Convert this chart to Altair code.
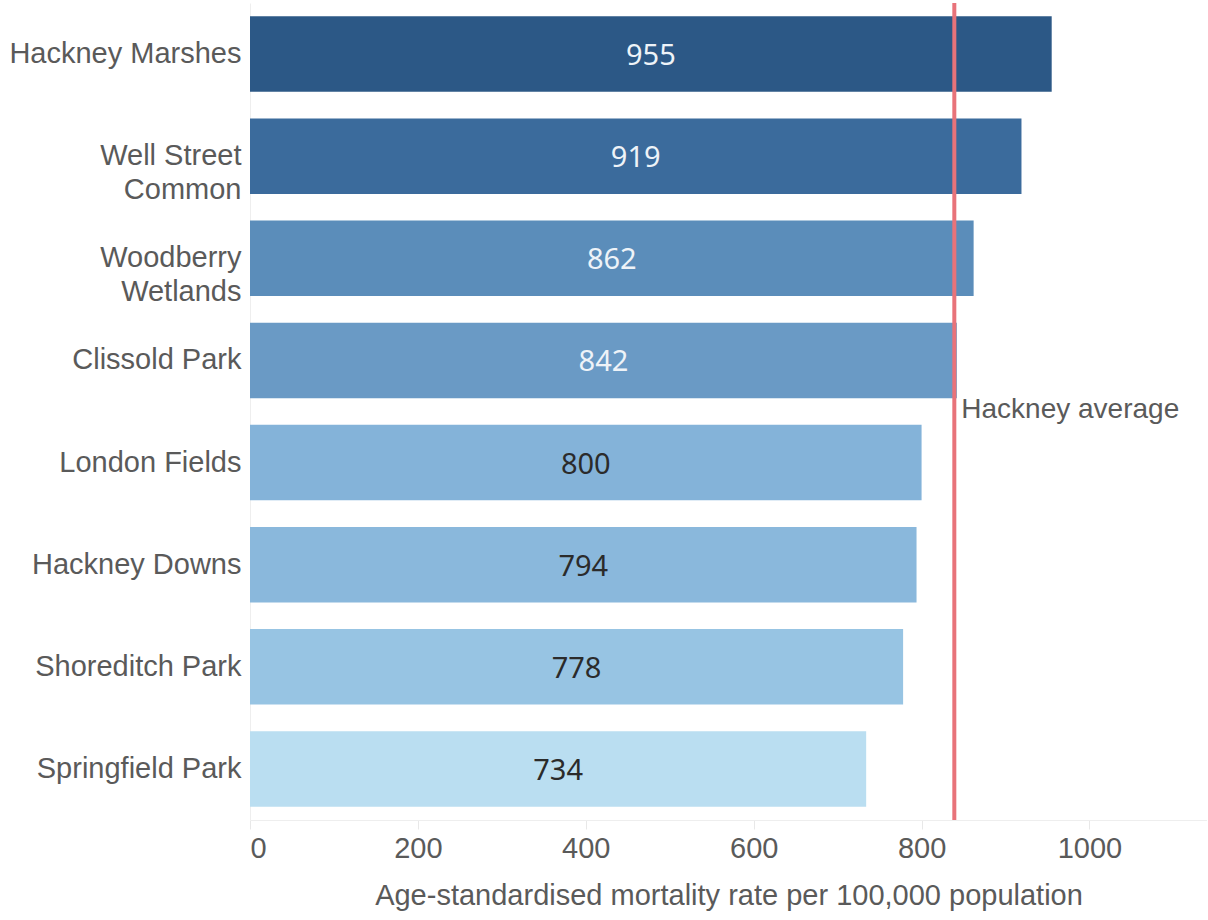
import altair as alt
import pandas as pd

parks = ["Hackney Marshes", "Well Street Common", "Woodberry Wetlands", "Clissold Park",
         "London Fields", "Hackney Downs", "Shoreditch Park", "Springfield Park"]
rates = [955, 919, 862, 842, 800, 794, 778, 734]
bar_colors = ["#2c5886", "#3b6b9c", "#5b8dba", "#6a9ac5", "#84b3d9", "#8ab8dc", "#97c4e3", "#badef1"]
hackney_average = 839
avg_label = "Hackney average"

df = pd.DataFrame({"park": parks, "rate": rates})
avg_df = pd.DataFrame({"avg": [hackney_average], "label": [avg_label], "park": ["Clissold Park"]})

FONT = "Arial, Liberation Sans, sans-serif"
LABEL_COLOR = "#5a5a5a"

y_enc = alt.Y("park:N", sort=parks,
              scale=alt.Scale(paddingInner=0.26, paddingOuter=0.13),
              axis=alt.Axis(title=None, ticks=False, labelFontSize=29, labelFont=FONT,
                            labelColor=LABEL_COLOR, labelPadding=9, labelLineHeight=34,
                            domainColor="#eeeeee", domainWidth=1, labelLimit=400,
                            labelExpr="datum.label == 'Well Street Common' ? ['Well Street', 'Common'] : datum.label == 'Woodberry Wetlands' ? ['Woodberry', 'Wetlands'] : datum.label"))

x_scale = alt.Scale(domain=[0, 1140], nice=False)

bars = alt.Chart(df).mark_bar().encode(
    y=y_enc,
    x=alt.X("rate:Q", scale=x_scale,
            axis=alt.Axis(title="Age-standardised mortality rate per 100,000 population",
                          values=[0, 200, 400, 600, 800, 1000], format="d", grid=False,
                          tickSize=9, tickColor="#e8e8e8", domainColor="#eeeeee",
                          labelFontSize=29, labelFont=FONT, labelColor=LABEL_COLOR,
                          labelPadding=5, titleFontSize=29, titleFont=FONT,
                          titleColor=LABEL_COLOR, titleFontWeight="normal", titlePadding=18)),
    color=alt.Color("park:N", scale=alt.Scale(domain=parks, range=bar_colors), legend=None),
)

values = alt.Chart(df).transform_calculate(mid="datum.rate / 2").mark_text(
    font="Noto Sans", fontSize=29, baseline="middle", align="center", dy=2
).encode(
    y=alt.Y("park:N", sort=parks),
    x=alt.X("mid:Q", scale=x_scale),
    text=alt.Text("rate:Q"),
    color=alt.condition(alt.datum.rate > 820, alt.value("#eef3f8"), alt.value("#2b2b2b")),
)

rule = alt.Chart(avg_df).mark_rule(color="#e8737a", strokeWidth=4).encode(
    x=alt.X("avg:Q", scale=x_scale),
)

avg_text = alt.Chart(avg_df).mark_text(
    font=FONT, fontSize=28, align="left", baseline="middle", dx=7, dy=12, color=LABEL_COLOR
).encode(
    x=alt.X("avg:Q", scale=x_scale),
    y=alt.Y("park:N", sort=parks, bandPosition=1),
    text="label:N",
)

chart = alt.layer(bars, values, rule, avg_text).properties(
    width=957, height=817,
    padding={"left": 8, "right": 0, "top": 1, "bottom": 5},
).configure_view(stroke=None)

chart.save("out.html", embed_options={"renderer": "svg", "actions": False})
